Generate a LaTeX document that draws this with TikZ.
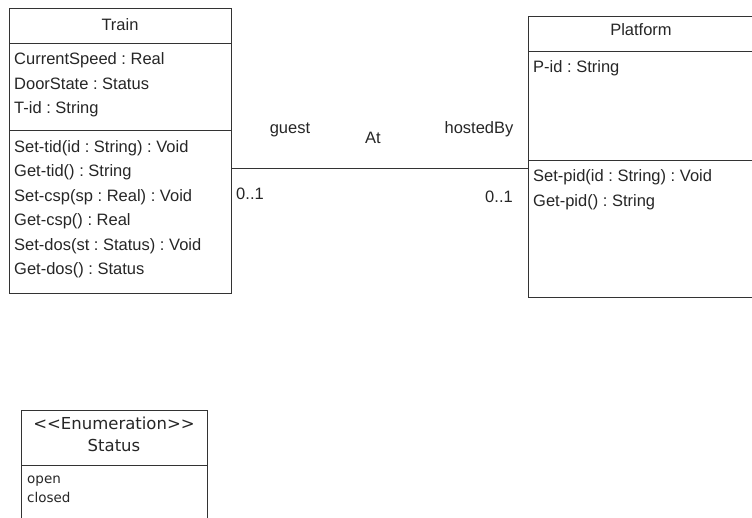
\documentclass[tikz,border=0pt]{standalone}
\usepackage{fontspec}
\setmainfont{Liberation Sans}
\newfontfamily\enumfont{DejaVu Sans}
\usetikzlibrary{positioning}

\tikzset{
    umlbox/.style={rectangle, draw=black!80, line width=1pt, inner sep=0pt, anchor=north west},
    umlline/.style={draw=black!80, line width=1pt},
    umltitle/.style={inner sep=0pt, anchor=base, yshift=-5.5pt, text=black!85, font=\fontsize{16.5}{19}\selectfont},
    umltext/.style={inner sep=0pt, anchor=base west, yshift=-5.5pt, text=black!85, font=\fontsize{16.5}{19}\selectfont},
    enumtitle/.style={inner sep=0pt, anchor=base, yshift=-5.5pt, text=black!85, font=\enumfont\fontsize{16.5}{19}\selectfont},
    enumtext/.style={inner sep=0pt, anchor=base west, yshift=-4.5pt, text=black!85, font=\enumfont\fontsize{13.5}{16}\selectfont},
}

\begin{document}
\frenchspacing
\begin{tikzpicture}[x=1pt, y=-1pt]

    \useasboundingbox (0,0) rectangle (752,517);
    \clip (0,0) rectangle (752,517);

    % === Train class ===
    \node[umlbox, minimum width=222pt, minimum height=285pt] (train) at (9,8) {};
    \draw[umlline] (train.west |- 0,43) -- (train.east |- 0,43);
    \draw[umlline] (train.west |- 0,130) -- (train.east |- 0,130);
    \node[umltitle] (train-name) at (120,25) {Train};

    % Attributes
    \foreach \txt [count=\i] in {CurrentSpeed : Real, DoorState : Status, T-id : String} {
        \node[umltext] (train-a\i) at (14,{59+24.5*(\i-1)}) {\txt};
    }

    % Operations
    \foreach \txt [count=\i] in {Set-tid(id : String) : Void, Get-tid() : String,
                                  Set-csp(sp : Real) : Void, Get-csp() : Real,
                                  Set-dos(st : Status) : Void, Get-dos() : Status} {
        \node[umltext] (train-m\i) at (14,{147+24.4*(\i-1)}) {\txt};
    }

    % === Platform class ===
    \node[umlbox, minimum width=250pt, minimum height=281.5pt] (platform) at (528,15.5) {};
    \draw[umlline] (platform.west |- 0,51) -- (platform.east |- 0,51);
    \draw[umlline] (platform.west |- 0,160.5) -- (platform.east |- 0,160.5);
    \node[umltitle] (platform-name) at (641,30) {Platform};

    \node[umltext] (platform-a1) at (533,67) {P-id : String};
    \node[umltext] (platform-m1) at (533,176) {Set-pid(id : String) : Void};
    \node[umltext] (platform-m2) at (533,201) {Get-pid() : String};

    % === Association At ===
    \coordinate (assoc) at (0,168);
    \draw[umlline] (train.east |- assoc) -- (platform.west |- assoc);

    \node[umltitle] (role-guest) at (290,128) {guest};
    \node[umltitle] (assoc-name) at (373,138) {At};
    \node[umltitle] (role-host) at (479,128) {hostedBy};
    \node[umltitle] (mult-train) at (250,194) {0..1};
    \node[umltitle] (mult-platform) at (499,197) {0..1};

    % === Status enumeration ===
    \node[umlbox, minimum width=186pt, minimum height=130pt] (status) at (21,410) {};
    \draw[umlline] (status.west |- 0,465) -- (status.east |- 0,465);
    \node[enumtitle] (status-stereo) at (114,424) {<{}<Enumeration>{}>};
    \node[enumtitle] (status-name) at (114,446) {Status};
    \node[enumtext] (status-v1) at (27,479) {open};
    \node[enumtext] (status-v2) at (27,498) {closed};

\end{tikzpicture}
\end{document}
